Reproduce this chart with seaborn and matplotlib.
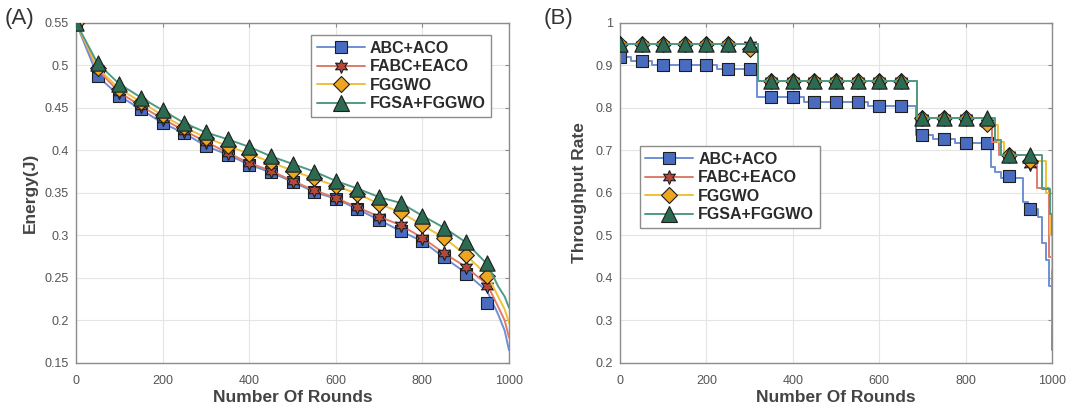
import numpy as np
import matplotlib
matplotlib.use("Agg")
import matplotlib.pyplot as plt
from matplotlib.lines import Line2D
from matplotlib.ticker import FuncFormatter
import seaborn as sns

# ---------------- data ----------------
methods = ["ABC+ACO", "FABC+EACO", "FGGWO", "FGSA+FGGWO"]
marker_rounds = [0, 50, 100, 150, 200, 250, 300, 350, 400, 450,
                 500, 550, 600, 650, 700, 750, 800, 850, 900, 950]

# (A) residual energy, curve samples
energy_rounds = marker_rounds + [975, 990, 1000]
energy_abc = [0.550, 0.487, 0.464, 0.448, 0.432, 0.420, 0.405, 0.395, 0.383, 0.374,
              0.363, 0.351, 0.343, 0.331, 0.318, 0.305, 0.293, 0.274, 0.256, 0.234,
              0.207, 0.188, 0.165]
energy_fabc = [0.550, 0.495, 0.468, 0.452, 0.437, 0.423, 0.410, 0.397, 0.385, 0.376,
               0.364, 0.353, 0.344, 0.333, 0.322, 0.312, 0.297, 0.279, 0.263, 0.242,
               0.216, 0.200, 0.180]
energy_fggwo = [0.550, 0.497, 0.472, 0.457, 0.441, 0.427, 0.415, 0.405, 0.396, 0.386,
                0.376, 0.367, 0.358, 0.349, 0.337, 0.327, 0.312, 0.297, 0.277, 0.253,
                0.228, 0.213, 0.197]
energy_fgsa = [0.550, 0.502, 0.478, 0.462, 0.447, 0.432, 0.421, 0.413, 0.404, 0.393,
               0.384, 0.375, 0.364, 0.355, 0.345, 0.338, 0.323, 0.309, 0.292, 0.266,
               0.240, 0.228, 0.215]

# (A) marked samples
energy_abc_mk = [0.550, 0.487, 0.464, 0.448, 0.432, 0.420, 0.405, 0.395, 0.383, 0.374,
                 0.363, 0.351, 0.343, 0.331, 0.318, 0.305, 0.293, 0.274, 0.254, 0.221]
energy_fabc_mk = [0.550, 0.495, 0.468, 0.452, 0.437, 0.423, 0.410, 0.397, 0.385, 0.376,
                  0.364, 0.353, 0.344, 0.333, 0.322, 0.312, 0.297, 0.279, 0.263, 0.240]
energy_fggwo_mk = [0.550, 0.497, 0.472, 0.457, 0.441, 0.427, 0.415, 0.405, 0.396, 0.386,
                   0.376, 0.367, 0.358, 0.349, 0.337, 0.327, 0.312, 0.297, 0.277, 0.252]
energy_fgsa_mk = [0.550, 0.502, 0.478, 0.462, 0.447, 0.432, 0.421, 0.413, 0.404, 0.393,
                  0.384, 0.375, 0.364, 0.355, 0.345, 0.338, 0.323, 0.309, 0.292, 0.267]

# (B) throughput, step breakpoints
tp_abc_rounds = [0, 25, 75, 225, 318, 425, 575, 685, 725, 775, 858, 868, 882, 932,
                 945, 968, 978, 986, 994, 1000]
tp_abc = [0.920, 0.911, 0.901, 0.892, 0.825, 0.813, 0.805, 0.737, 0.727, 0.717,
          0.660, 0.648, 0.634, 0.579, 0.562, 0.544, 0.482, 0.443, 0.380, 0.230]
tp_fabc_rounds = [0, 320, 688, 860, 878, 940, 965, 993, 1000]
tp_fabc = [0.950, 0.862, 0.776, 0.720, 0.690, 0.667, 0.612, 0.450, 0.280]
tp_fggwo_rounds = [0, 305, 320, 688, 858, 875, 890, 958, 985, 995, 1000]
tp_fggwo = [0.950, 0.940, 0.862, 0.776, 0.760, 0.720, 0.690, 0.675, 0.600, 0.500, 0.420]
tp_fgsa_rounds = [0, 320, 688, 868, 882, 978, 995, 1000]
tp_fgsa = [0.950, 0.862, 0.776, 0.723, 0.690, 0.610, 0.550, 0.500]

# (B) marked samples
tp_abc_mk = [0.920, 0.911, 0.901, 0.901, 0.901, 0.892, 0.892, 0.825, 0.825, 0.813,
             0.813, 0.813, 0.805, 0.805, 0.737, 0.727, 0.717, 0.717, 0.640, 0.562]
tp_fabc_mk = [0.948, 0.948, 0.948, 0.948, 0.948, 0.948, 0.948, 0.862, 0.862, 0.862,
              0.862, 0.862, 0.862, 0.862, 0.776, 0.776, 0.776, 0.765, 0.690, 0.667]
tp_fggwo_mk = [0.950, 0.950, 0.950, 0.950, 0.950, 0.950, 0.938, 0.862, 0.862, 0.862,
               0.862, 0.862, 0.862, 0.862, 0.776, 0.776, 0.776, 0.762, 0.690, 0.675]
tp_fgsa_mk = [0.950, 0.950, 0.950, 0.950, 0.950, 0.950, 0.950, 0.862, 0.862, 0.862,
              0.862, 0.862, 0.862, 0.862, 0.776, 0.776, 0.776, 0.776, 0.690, 0.690]

# ---------------- styling ----------------
sns.set_theme(style="white")
plt.rcParams["font.family"] = ["Liberation Sans", "DejaVu Sans"]

line_colors = ["#6f8fd2", "#e07b6a", "#f0c03c", "#4f9a82"]
face_colors = ["#4a6cc0", "#b4493b", "#eea51f", "#2c6a52"]
edge_color = "#1e1e1e"
markers = ["s", (6, 1, 0), "D", "^"]
msizes = [8, 10, 8, 11]

frame_color = "#8c8c8c"
tick_color = "#555555"
label_color = "#444444"


def style_axes(ax, ylim, yticks):
    ax.set_xlim(0, 1000)
    ax.set_ylim(*ylim)
    ax.set_xticks(range(0, 1001, 200))
    ax.set_yticks(yticks)
    ax.xaxis.set_major_formatter(FuncFormatter(lambda v, p: f"{v:g}"))
    ax.yaxis.set_major_formatter(FuncFormatter(lambda v, p: f"{v:g}"))
    ax.grid(True, color="#e4e4e4", linewidth=0.8)
    ax.set_axisbelow(True)
    for sp in ax.spines.values():
        sp.set_color(frame_color)
        sp.set_linewidth(1.0)
    ax.tick_params(direction="in", length=3, width=0.8, color=frame_color,
                   labelsize=9, labelcolor=tick_color, top=True, right=True,
                   pad=5)
    ax.tick_params(axis="x", pad=9)
    ax.set_xlabel("Number Of Rounds", fontsize=12.5, fontweight="bold",
                  color=label_color, labelpad=2)


def draw_series(ax, line_x, line_y, mk_y, i, steps=False):
    kw = {"drawstyle": "steps-post"} if steps else {}
    sns.lineplot(x=line_x, y=line_y, ax=ax, color=line_colors[i], linewidth=1.4,
                 zorder=2 + i, estimator=None, sort=False, **kw)
    sns.scatterplot(x=marker_rounds, y=mk_y, ax=ax, marker=markers[i],
                    s=msizes[i] ** 2, color=face_colors[i], edgecolor=edge_color,
                    linewidth=0.8, zorder=2.5 + i, legend=False)


def legend_handles():
    return [Line2D([0], [0], color=line_colors[i], linewidth=1.4, marker=markers[i],
                   markersize=msizes[i], markerfacecolor=face_colors[i],
                   markeredgecolor=edge_color, markeredgewidth=0.8)
            for i in range(4)]


def add_legend(ax, anchor):
    leg = ax.legend(legend_handles(), methods, loc="upper left",
                    bbox_to_anchor=anchor, borderaxespad=0, frameon=True,
                    fancybox=False, edgecolor=frame_color, framealpha=1,
                    borderpad=0.35, labelspacing=0.22, handlelength=3.0,
                    handletextpad=0.3, prop={"weight": "bold", "size": 11.5})
    leg.get_frame().set_linewidth(1.0)
    for t in leg.get_texts():
        t.set_color("#2a2a2a")
    return leg


fig = plt.figure(figsize=(10.75, 4.12), dpi=100)
axA = fig.add_axes([0.0707, 0.119, 0.4028, 0.826])
axB = fig.add_axes([0.5767, 0.119, 0.4019, 0.826])

# (A) energy
energy_lines = [energy_abc, energy_fabc, energy_fggwo, energy_fgsa]
energy_marks = [energy_abc_mk, energy_fabc_mk, energy_fggwo_mk, energy_fgsa_mk]
for i in range(4):
    draw_series(axA, energy_rounds, energy_lines[i], energy_marks[i], i)
style_axes(axA, (0.15, 0.55), np.round(np.arange(0.15, 0.551, 0.05), 2))
axA.set_ylabel("Energy(J)", fontsize=12.5, fontweight="bold", color=label_color,
               labelpad=5)
add_legend(axA, (0.543, 0.963))

# (B) throughput
tp_rounds = [tp_abc_rounds, tp_fabc_rounds, tp_fggwo_rounds, tp_fgsa_rounds]
tp_lines = [tp_abc, tp_fabc, tp_fggwo, tp_fgsa]
tp_marks = [tp_abc_mk, tp_fabc_mk, tp_fggwo_mk, tp_fgsa_mk]
for i in range(4):
    draw_series(axB, tp_rounds[i], tp_lines[i], tp_marks[i], i, steps=True)
style_axes(axB, (0.2, 1.0), np.round(np.arange(0.2, 1.01, 0.1), 1))
axB.set_ylabel("Throughput Rate", fontsize=12.5, fontweight="bold",
               color=label_color, labelpad=6)
add_legend(axB, (0.046, 0.637))

# panel tags
fig.text(0.004, 0.955, "(A)", fontsize=16, color="#333333", va="center", ha="left")
fig.text(0.506, 0.955, "(B)", fontsize=16, color="#333333", va="center", ha="left")

fig.savefig("out.png", dpi=100, facecolor="white")
